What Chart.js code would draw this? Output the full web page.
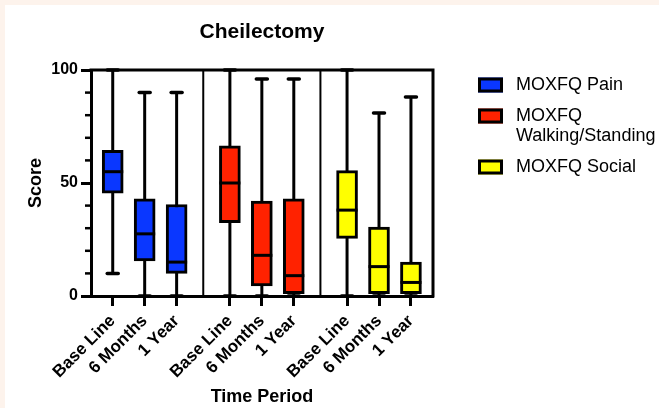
<!DOCTYPE html>
<html>
<head>
<meta charset="utf-8">
<script src="https://cdn.jsdelivr.net/npm/chart.js@4.4.0/dist/chart.umd.min.js"></script>
<style>
  html, body { margin: 0; padding: 0; background: #fdf3ec; }
  #wrap { position: absolute; left: 5px; top: 5px; width: 654px; height: 403px; background: #fff; }
</style>
</head>
<body>
<div id="wrap"><canvas id="chart" width="654" height="403"></canvas></div>
<script>
const chartTitle = "Cheilectomy";
const xTitle = "Time Period";
const yTitle = "Score";
const timeLabels = ["Base Line", "6 Months", "1 Year"];
const seriesNames = ["MOXFQ Pain", "MOXFQ Walking/Standing", "MOXFQ Social"];
const seriesColors = ["#0a37ff", "#ff2200", "#ffff00"];

// box plot summaries, one value per time point
const painMin = [10, 0, 0];
const painQ1 = [45.5, 15.5, 10];
const painMedian = [55, 27.5, 15];
const painQ3 = [64.5, 43, 40.5];
const painMax = [100, 90, 90];

const walkMin = [0, 0, 0];
const walkQ1 = [32.5, 4.5, 1];
const walkMedian = [50, 18, 9];
const walkQ3 = [66.5, 42, 43];
const walkMax = [100, 96, 96];

const socialMin = [0, 0, 0];
const socialQ1 = [25.5, 1, 1];
const socialMedian = [38, 13, 6];
const socialQ3 = [55.5, 30.5, 15];
const socialMax = [100, 81, 88];

const yLabelled = [0, 50, 100];

const series = [
    { min: painMin, q1: painQ1, med: painMedian, q3: painQ3, max: painMax },
    { min: walkMin, q1: walkQ1, med: walkMedian, q3: walkQ3, max: walkMax },
    { min: socialMin, q1: socialQ1, med: socialMedian, q3: socialQ3, max: socialMax }
];

const FONT = "'Liberation Sans', Arial, sans-serif";
const GROUP_GAP = 1.667;
const BOX_W = 21;

function xPos(g, i) {
    return g * (timeLabels.length - 1 + GROUP_GAP) + i;
}

const tickValues = [];
series.forEach((s, g) => timeLabels.forEach((t, i) => tickValues.push(xPos(g, i))));

Chart.defaults.font.family = FONT;
Chart.defaults.color = "#000";

const boxPlot = {
    id: "boxPlot",
    beforeDatasetsDraw(chart) {
        const { ctx, scales: { x, y } } = chart;
        ctx.save();
        ctx.strokeStyle = "#000";
        series.forEach((s, g) => {
            timeLabels.forEach((t, i) => {
                const px = x.getPixelForValue(xPos(g, i));
                const top = y.getPixelForValue(s.max[i]);
                const bot = y.getPixelForValue(s.min[i]);
                ctx.lineWidth = 3;
                ctx.lineCap = "butt";
                ctx.beginPath();
                ctx.moveTo(px, top);
                ctx.lineTo(px, bot);
                ctx.stroke();
                ctx.lineWidth = 3.5;
                ctx.lineCap = "round";
                [top, bot].forEach(v => {
                    ctx.beginPath();
                    ctx.moveTo(px - 5.5, v);
                    ctx.lineTo(px + 5.5, v);
                    ctx.stroke();
                });
            });
        });
        ctx.restore();
    },
    afterDatasetsDraw(chart) {
        const { ctx, scales: { x, y } } = chart;
        ctx.save();
        ctx.strokeStyle = "#000";
        ctx.lineWidth = 3;
        series.forEach((s, g) => {
            timeLabels.forEach((t, i) => {
                const px = x.getPixelForValue(xPos(g, i));
                const py = y.getPixelForValue(s.med[i]);
                ctx.beginPath();
                ctx.moveTo(px - BOX_W / 2, py);
                ctx.lineTo(px + BOX_W / 2, py);
                ctx.stroke();
            });
        });
        ctx.restore();
    },
    afterDraw(chart) {
        const { ctx, chartArea: a, scales: { x, y } } = chart;
        ctx.save();
        ctx.strokeStyle = "#000";

        // frame top and right
        ctx.lineWidth = 3;
        ctx.beginPath();
        ctx.moveTo(a.left - 1.5, a.top);
        ctx.lineTo(a.right, a.top);
        ctx.lineTo(a.right, a.bottom + 1.5);
        ctx.stroke();

        // separators between the groups
        ctx.lineWidth = 2;
        for (let g = 0; g < series.length - 1; g++) {
            const px = x.getPixelForValue(xPos(g, timeLabels.length - 1) + GROUP_GAP / 2);
            ctx.beginPath();
            ctx.moveTo(px, a.top);
            ctx.lineTo(px, a.bottom);
            ctx.stroke();
        }

        // minor ticks on the y axis
        ctx.lineWidth = 2.5;
        for (let v = 10; v < 100; v += 10) {
            if (yLabelled.includes(v)) continue;
            const py = y.getPixelForValue(v);
            ctx.beginPath();
            ctx.moveTo(a.left - 6, py);
            ctx.lineTo(a.left, py);
            ctx.stroke();
        }

        // title
        ctx.fillStyle = "#000";
        ctx.font = "bold 21px " + FONT;
        ctx.textAlign = "center";
        ctx.textBaseline = "middle";
        ctx.fillText(chartTitle, (a.left + a.right) / 2, 27);

        // legend
        ctx.font = "18px " + FONT;
        ctx.textAlign = "left";
        const lx = a.right + 45;
        let ly = a.top + 5;
        chart.data.datasets.forEach(ds => {
            const words = ds.label.split(" ");
            const lines = [];
            let cur = "";
            words.forEach(w => {
                const test = cur ? cur + " " + w : w;
                if (cur && ctx.measureText(test).width > 145) {
                    lines.push(cur);
                    cur = w;
                } else {
                    cur = test;
                }
            });
            lines.push(cur);
            const cy = ly + 10;
            ctx.fillStyle = ds.backgroundColor;
            ctx.fillRect(lx, cy - 7.5, 25, 15);
            ctx.lineWidth = 3;
            ctx.strokeRect(lx + 1.5, cy - 6, 22, 12);
            ctx.fillStyle = "#000";
            lines.forEach((ln, k) => ctx.fillText(ln, lx + 38, cy + k * 20));
            ly += lines.length * 20 + 11;
        });
        ctx.restore();
    }
};

const datasets = series.map((s, g) => ({
    label: seriesNames[g],
    backgroundColor: seriesColors[g],
    borderColor: "#000",
    borderWidth: 3,
    borderSkipped: false,
    barThickness: BOX_W,
    grouped: false,
    data: timeLabels.map((t, i) => ({ x: xPos(g, i), y: [s.q1[i], s.q3[i]] }))
}));

new Chart(document.getElementById("chart"), {
    type: "bar",
    data: { datasets: datasets },
    options: {
        responsive: false,
        animation: false,
        layout: { padding: { top: 65, right: 226, left: 0, bottom: 0 } },
        plugins: {
            legend: { display: false },
            tooltip: { enabled: false },
            title: { display: false }
        },
        scales: {
            x: {
                type: "linear",
                offset: false,
                min: xPos(0, 0) - 0.68,
                max: xPos(series.length - 1, timeLabels.length - 1) + 0.69,
                afterBuildTicks: scale => { scale.ticks = tickValues.map(v => ({ value: v })); },
                afterFit: scale => { scale.height = 112; },
                ticks: {
                    autoSkip: false,
                    minRotation: 45,
                    maxRotation: 45,
                    padding: 5,
                    font: { size: 17, weight: "bold" },
                    callback: (v, i) => timeLabels[i % timeLabels.length]
                },
                grid: { offset: false, drawOnChartArea: false, tickLength: 10, tickWidth: 3, tickColor: "#000" },
                border: { display: true, color: "#000", width: 3 },
                title: { display: true, text: xTitle, font: { size: 18, weight: "bold" }, padding: { top: 0, bottom: 0 } }
            },
            y: {
                min: 0,
                max: 100,
                afterFit: scale => { scale.width = 86; },
                ticks: {
                    stepSize: 10,
                    padding: 3,
                    font: { size: 16, weight: "bold" },
                    callback: v => (yLabelled.includes(v) ? String(v) : "")
                },
                grid: {
                    drawOnChartArea: false,
                    tickLength: 10,
                    tickWidth: 3,
                    tickColor: c => (yLabelled.includes(c.tick.value) ? "#000" : "rgba(0,0,0,0)")
                },
                border: { display: true, color: "#000", width: 3 },
                title: { display: true, text: yTitle, font: { size: 18, weight: "bold" }, padding: { top: 20, bottom: 0 } }
            }
        }
    },
    plugins: [boxPlot]
});
</script>
</body>
</html>
